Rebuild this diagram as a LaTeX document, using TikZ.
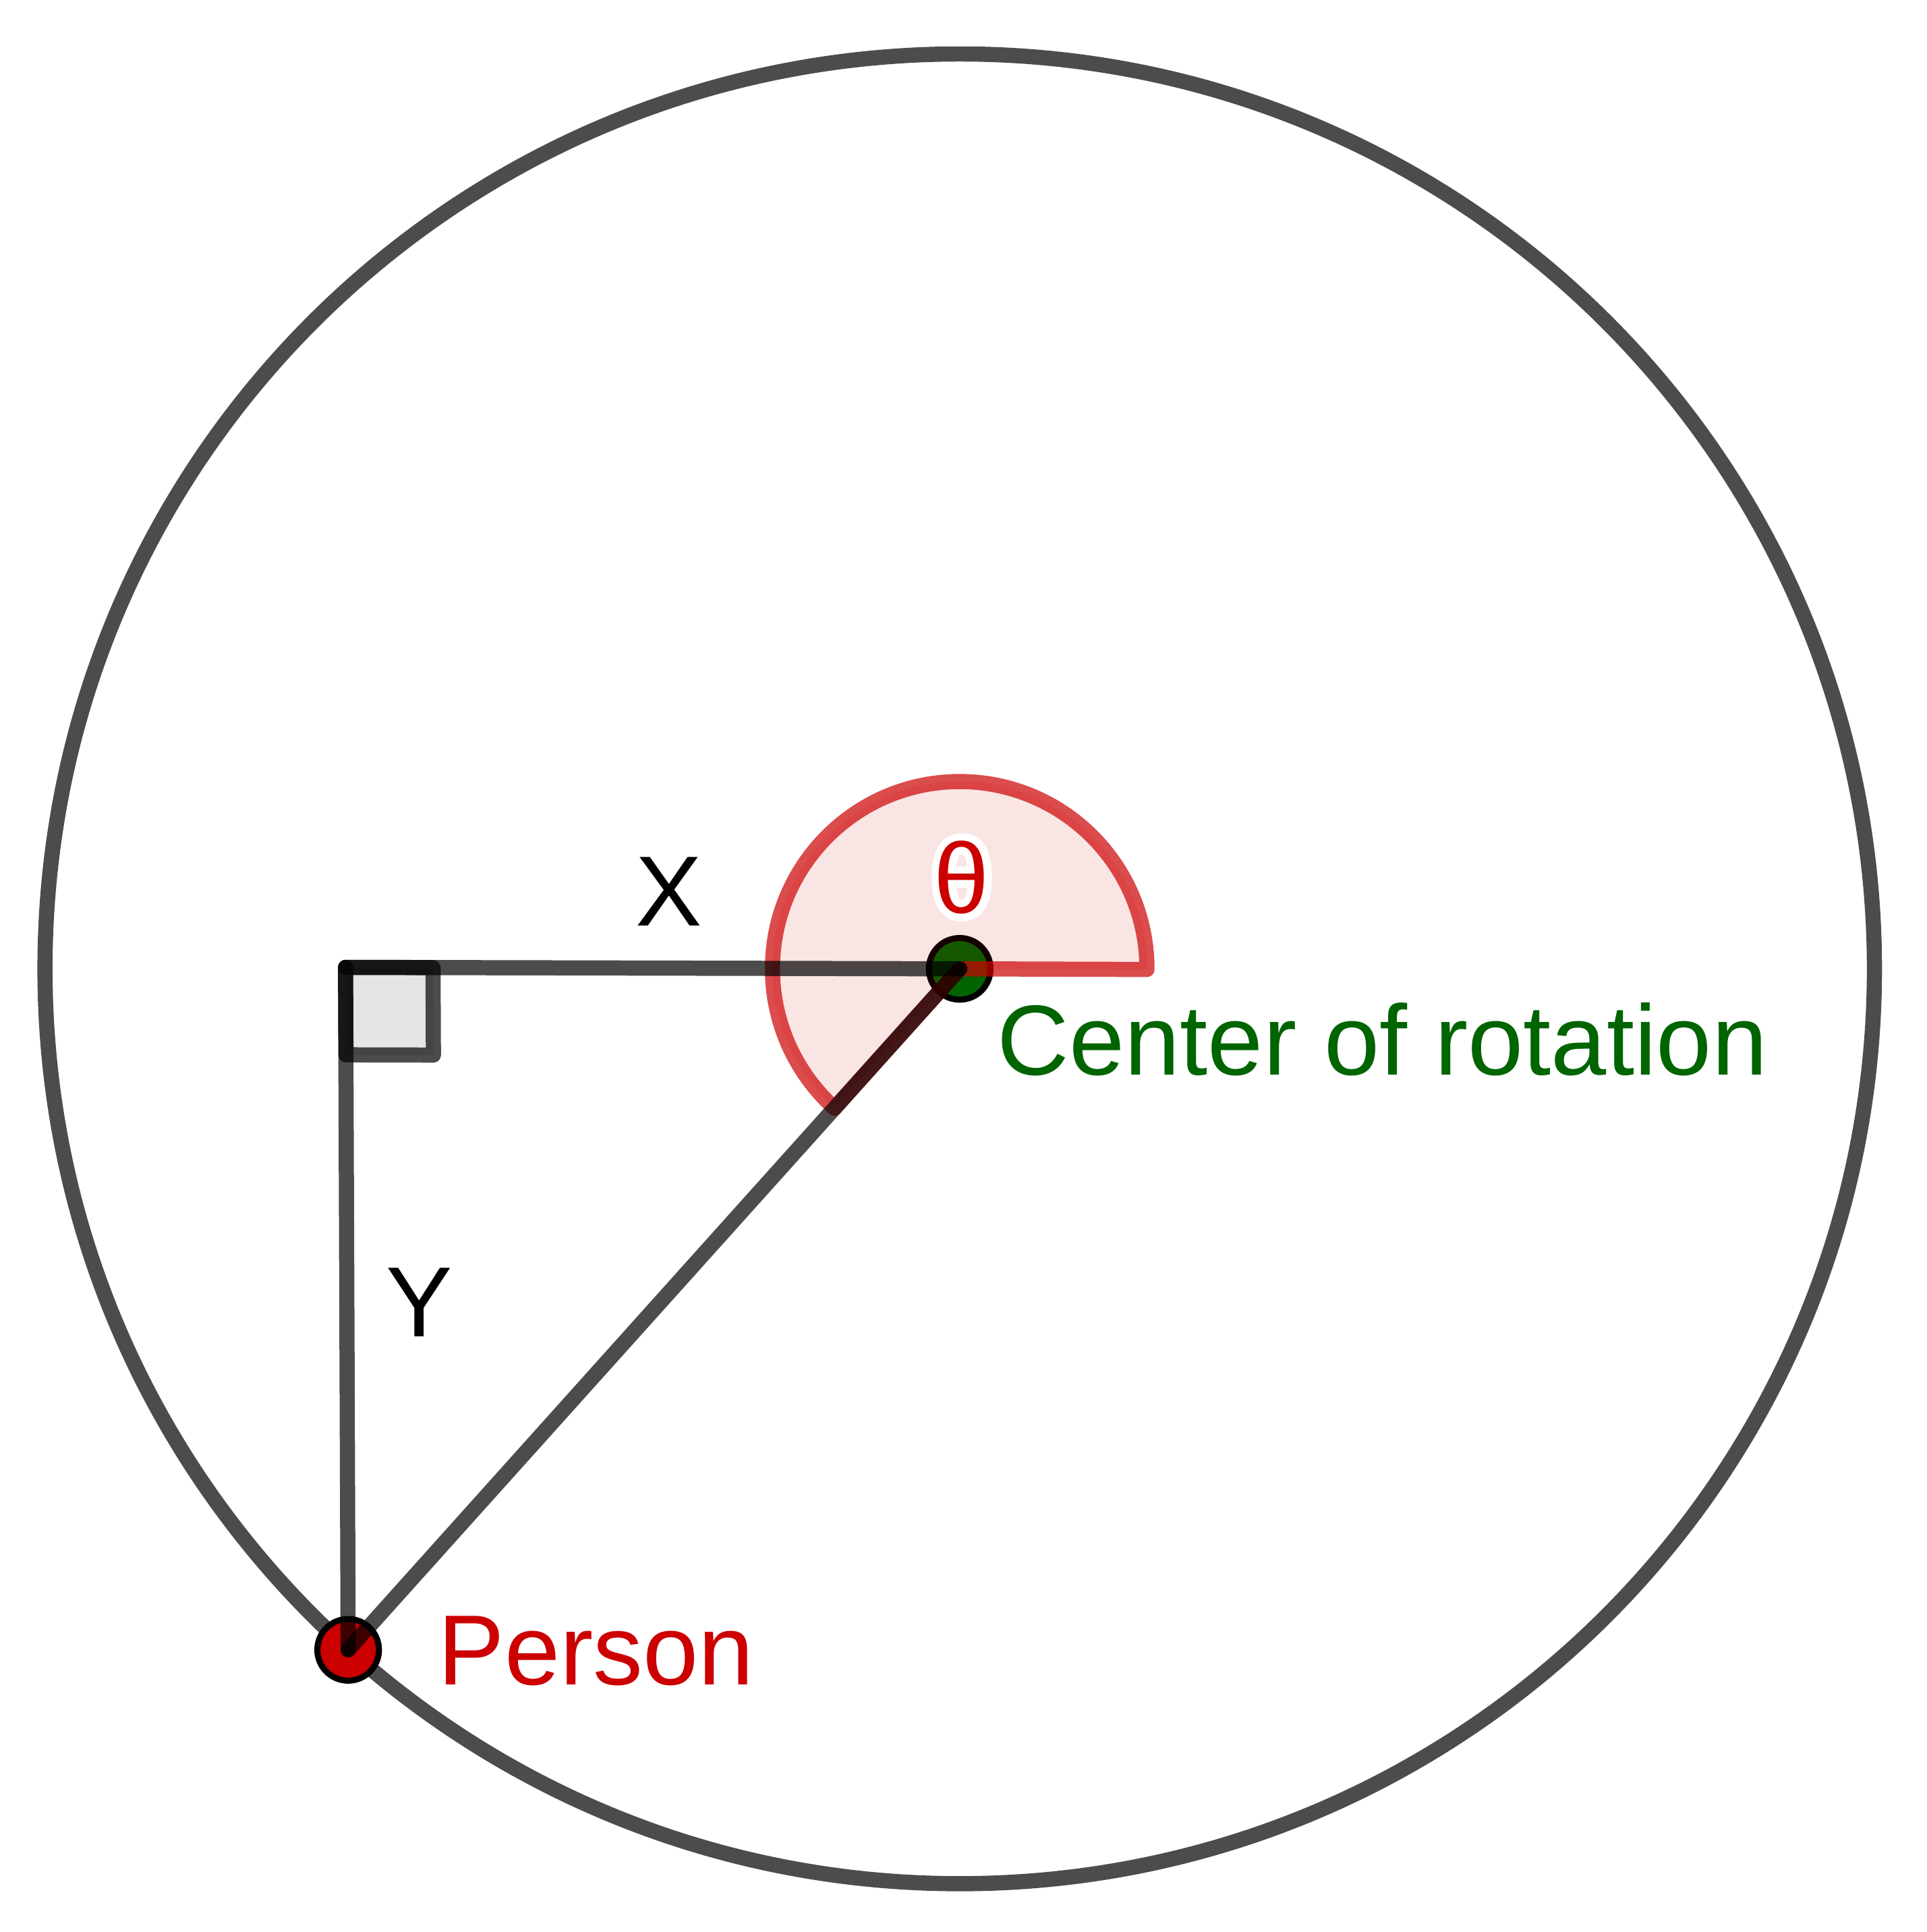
\documentclass[tikz,border=0pt]{standalone}
\usepackage{fontspec}
\setmainfont{Liberation Sans}
\newfontfamily\halofont[FakeBold=15]{Liberation Sans}
\definecolor{ggred}{HTML}{CC0000}
\definecolor{gggreen}{HTML}{006400}
\begin{document}
\begin{tikzpicture}[x=0.01cm,y=0.01cm,
  seg/.style={draw=black, draw opacity=0.7, line width=3.5pt, line cap=round, line join=round},
  dot/.style={circle, draw=black, line width=1.4pt, minimum size=0.5cm, inner sep=0pt},
  lbl/.style={font=\fontsize{23}{27}\selectfont, inner sep=0pt}]
\useasboundingbox (0,0) rectangle (1564,1568);
\coordinate (O) at (779,781.7);
\coordinate (C) at (280.5,782.9);
\coordinate (P) at (282.6,229);
% big circle
\draw[seg] (O) circle[radius=742.5];
% points
\node[dot, fill=gggreen] (Odot) at (O) {};
\node[dot, fill=ggred] (Pdot) at (P) {};
% angle sector
\draw[draw=ggred, draw opacity=0.7, fill=ggred, fill opacity=0.1, line width=3.5pt, line join=round, line cap=round]
  (Odot.center) -- ++(-0.2:152) arc[start angle=-0.2, end angle=228.07, radius=152] -- cycle;
% segments
\draw[seg] (C) -- (Odot.center);
\draw[seg] (C) -- (Pdot.center);
\draw[seg] (Pdot.center) -- (Odot.center);
% right angle mark
\draw[seg, fill=black, fill opacity=0.1] (C) -- (351.5,782.7) -- (351.8,711.7) -- (280.8,711.9) -- cycle;
% labels
\node[lbl, anchor=base] (lx) at (543,816.7) {X};
\node[lbl, anchor=base] (ly) at (340.6,483) {Y};
\node[lbl, anchor=base, white, font=\halofont\fontsize{23}{27}\selectfont] (thhalo) at (780.7,827) {θ};
\node[lbl, anchor=base, ggred] (th) at (780.7,827) {θ};
\node[lbl, anchor=base west, gggreen] (lc) at (809,695.5) {Center of rotation};
\node[lbl, anchor=base west, ggred] (lp) at (355,200.5) {Person};
\end{tikzpicture}
\end{document}
